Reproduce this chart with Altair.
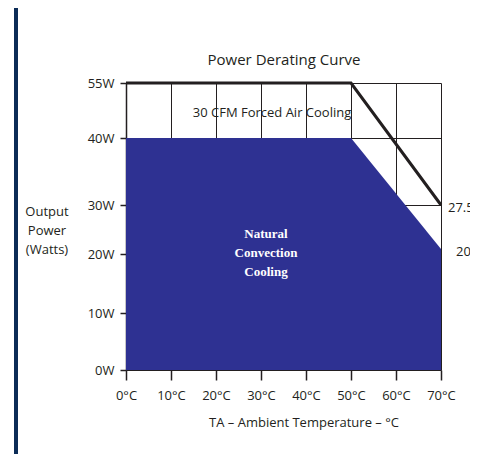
import altair as alt
import pandas as pd

# ---- data ----
temp_line = [0, 50, 70]
power_line = [55, 55, 30]
temp_area = [0, 50, 70]
power_area = [40, 40, 21]
x_ticks = [0, 10, 20, 30, 40, 50, 60, 70]
y_ticks = [0, 10, 20, 30, 40, 55]

FONT = "Open Sans"
INK = "#231f20"
BLUE = "#2e3192"
NAVY = "#0c2c57"

line_df = pd.DataFrame({"t": temp_line, "p": power_line})
area_df = pd.DataFrame({"t": temp_area, "p": power_area})

xscale = alt.Scale(domain=[0, 70], nice=False, zero=False)
yscale = alt.Scale(domain=y_ticks, range=[287, 230, 171, 122, 55, 0], nice=False, zero=False)

xaxis = alt.Axis(values=x_ticks, labelExpr="datum.value + '°C'", title=None, grid=True,
                 gridColor=INK, gridWidth=1, domain=False, tickSize=10, tickColor=INK,
                 tickWidth=1.5, labelPadding=9, labelFont=FONT, labelFontSize=13,
                 labelColor=INK, labelFlush=False, labelOverlap=False)
yaxis = alt.Axis(values=y_ticks, labelExpr="datum.value + 'W'", title=None, grid=True,
                 gridColor=INK, gridWidth=1, domain=True, domainColor=INK, domainWidth=1.5,
                 tickSize=6, tickColor=INK, tickWidth=1.5, labelPadding=6, labelFont=FONT,
                 labelFontSize=13, labelColor=INK, labelFlush=False, labelOverlap=False)

area = alt.Chart(area_df).mark_area(color=BLUE, opacity=1).encode(
    x=alt.X("t:Q", scale=xscale, axis=xaxis),
    y=alt.Y("p:Q", scale=yscale, axis=yaxis),
)
line = alt.Chart(line_df).mark_line(color=INK, strokeWidth=3).encode(
    x=alt.X("t:Q", scale=xscale),
    y=alt.Y("p:Q", scale=yscale),
)

one = alt.Data(values=[{}])


def txt(text, x, y, size=13, color=INK, align="center", weight="normal", font=FONT, lh=None):
    kw = dict(text=text, fontSize=size, color=color, align=align, baseline="middle",
              fontWeight=weight, font=font)
    if lh:
        kw["lineHeight"] = lh
    return alt.Chart(one).mark_text(**kw).encode(x=alt.value(x), y=alt.value(y))


bar = alt.Chart(one).mark_rect(color=NAVY).encode(
    x=alt.value(-112), x2=alt.value(-108), y=alt.value(-75), y2=alt.value(371)
)

texts = [
    txt("Power Derating Curve", 158, -23, size=15),
    txt("30 CFM Forced Air Cooling", 146, 30),
    txt(["Natural", "Convection", "Cooling"], 140, 151, size=13, color="white",
        weight="bold", font="Liberation Serif", lh=19),
    txt("27.5W", 322, 125, align="left"),
    txt("20W", 330, 169, align="left"),
    txt(["Output", "Power", "(Watts)"], -79, 129, lh=19),
    txt("TA – Ambient Temperature – °C", 178, 340),
]

chart = alt.layer(area, line, bar, *texts).properties(
    width=315, height=287,
    autosize=alt.AutoSizeParams(type="none"),
    padding={"left": 118, "top": 75, "right": 29, "bottom": 84},
    background="white",
).configure_view(stroke=None)

chart.save("out.html", embed_options={"renderer": "svg", "actions": False})
